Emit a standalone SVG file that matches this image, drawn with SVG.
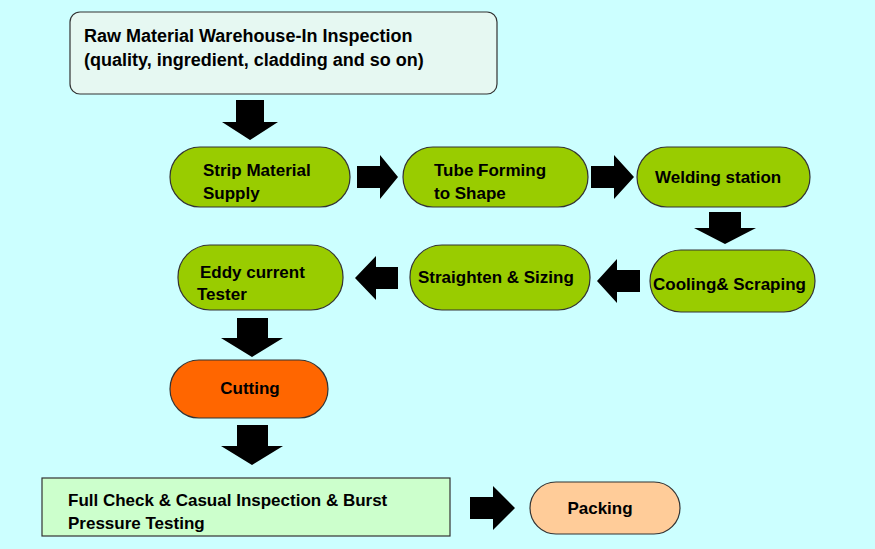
<svg xmlns="http://www.w3.org/2000/svg" width="875" height="549" viewBox="0 0 875 549">
<style>
.n{stroke:#333;stroke-width:1.2}
.g{fill:#99cc00}
.t{font-family:"Liberation Sans",Arial,sans-serif;font-weight:bold;font-size:17px;fill:#000}
.a{fill:#000}
</style>
<rect width="875" height="549" fill="#ccffff"/>
<g id="connectors">
<polygon class="a" points="236,100 264,100 264,122 278,122 250,140 222,122 236,122"/>
<polygon class="a" points="357,166 380,166 380,155 398,177 380,199 380,188 357,188"/>
<polygon class="a" points="591,166 614,166 614,155 634,177 614,199 614,188 591,188"/>
<polygon class="a" points="709,212 741,212 741,228 756,228 725,244 694,228 709,228"/>
<polygon class="a" points="640,270 617,270 617,259 597,281 617,303 617,292 640,292"/>
<polygon class="a" points="398,267 376,267 376,256 355,278 376,300 376,289 398,289"/>
<polygon class="a" points="237,318 268,318 268,338 283,338 252,357 221,338 237,338"/>
<polygon class="a" points="237,425 268,425 268,446 283,446 252,465 221,446 237,446"/>
<polygon class="a" points="470,497 493,497 493,486 515,508 493,530 493,519 470,519"/>
</g>
<g id="raw"><rect class="n" x="70" y="12" width="427" height="82" rx="10" fill="#e6f8f2"/>
<text class="t" x="84" y="42" style="font-size:18px">Raw Material Warehouse-In Inspection</text>
<text class="t" x="84" y="66" style="font-size:18px"> (quality, ingredient, cladding and so on)</text></g>
<g id="strip"><rect class="n g" x="170" y="147" width="180" height="60" rx="30"/>
<text class="t" x="203" y="176">Strip Material</text><text class="t" x="203" y="199">Supply</text></g>
<g id="tube"><rect class="n g" x="403" y="147" width="185" height="60" rx="30"/>
<text class="t" x="434" y="176">Tube Forming</text><text class="t" x="434" y="199">to Shape</text></g>
<g id="weld"><rect class="n g" x="637" y="147" width="173" height="60" rx="30"/>
<text class="t" x="655" y="183">Welding station</text></g>
<g id="cool"><rect class="n g" x="650" y="250" width="165" height="62" rx="31"/>
<text class="t" x="653" y="290">Cooling&amp; Scraping</text></g>
<g id="straighten"><rect class="n g" x="410" y="245" width="180" height="65" rx="32"/>
<text class="t" x="418" y="283">Straighten &amp; Sizing</text></g>
<g id="eddy"><rect class="n g" x="178" y="245" width="165" height="65" rx="32"/>
<text class="t" x="200" y="278">Eddy current</text><text class="t" x="197" y="300">Tester</text></g>
<g id="cutting"><rect class="n" x="170" y="360" width="158" height="58" rx="29" fill="#ff6600"/>
<text class="t" x="250" y="394" text-anchor="middle">Cutting</text></g>
<g id="check"><rect class="n" x="42" y="478" width="408" height="58" fill="#ccffcc"/>
<text class="t" x="68" y="506">Full Check &amp; Casual Inspection &amp; Burst</text>
<text class="t" x="68" y="529">Pressure Testing</text></g>
<g id="packing"><rect class="n" x="530" y="482" width="150" height="52" rx="26" fill="#ffcc99"/>
<text class="t" x="600" y="514" text-anchor="middle">Packing</text></g>
</svg>
